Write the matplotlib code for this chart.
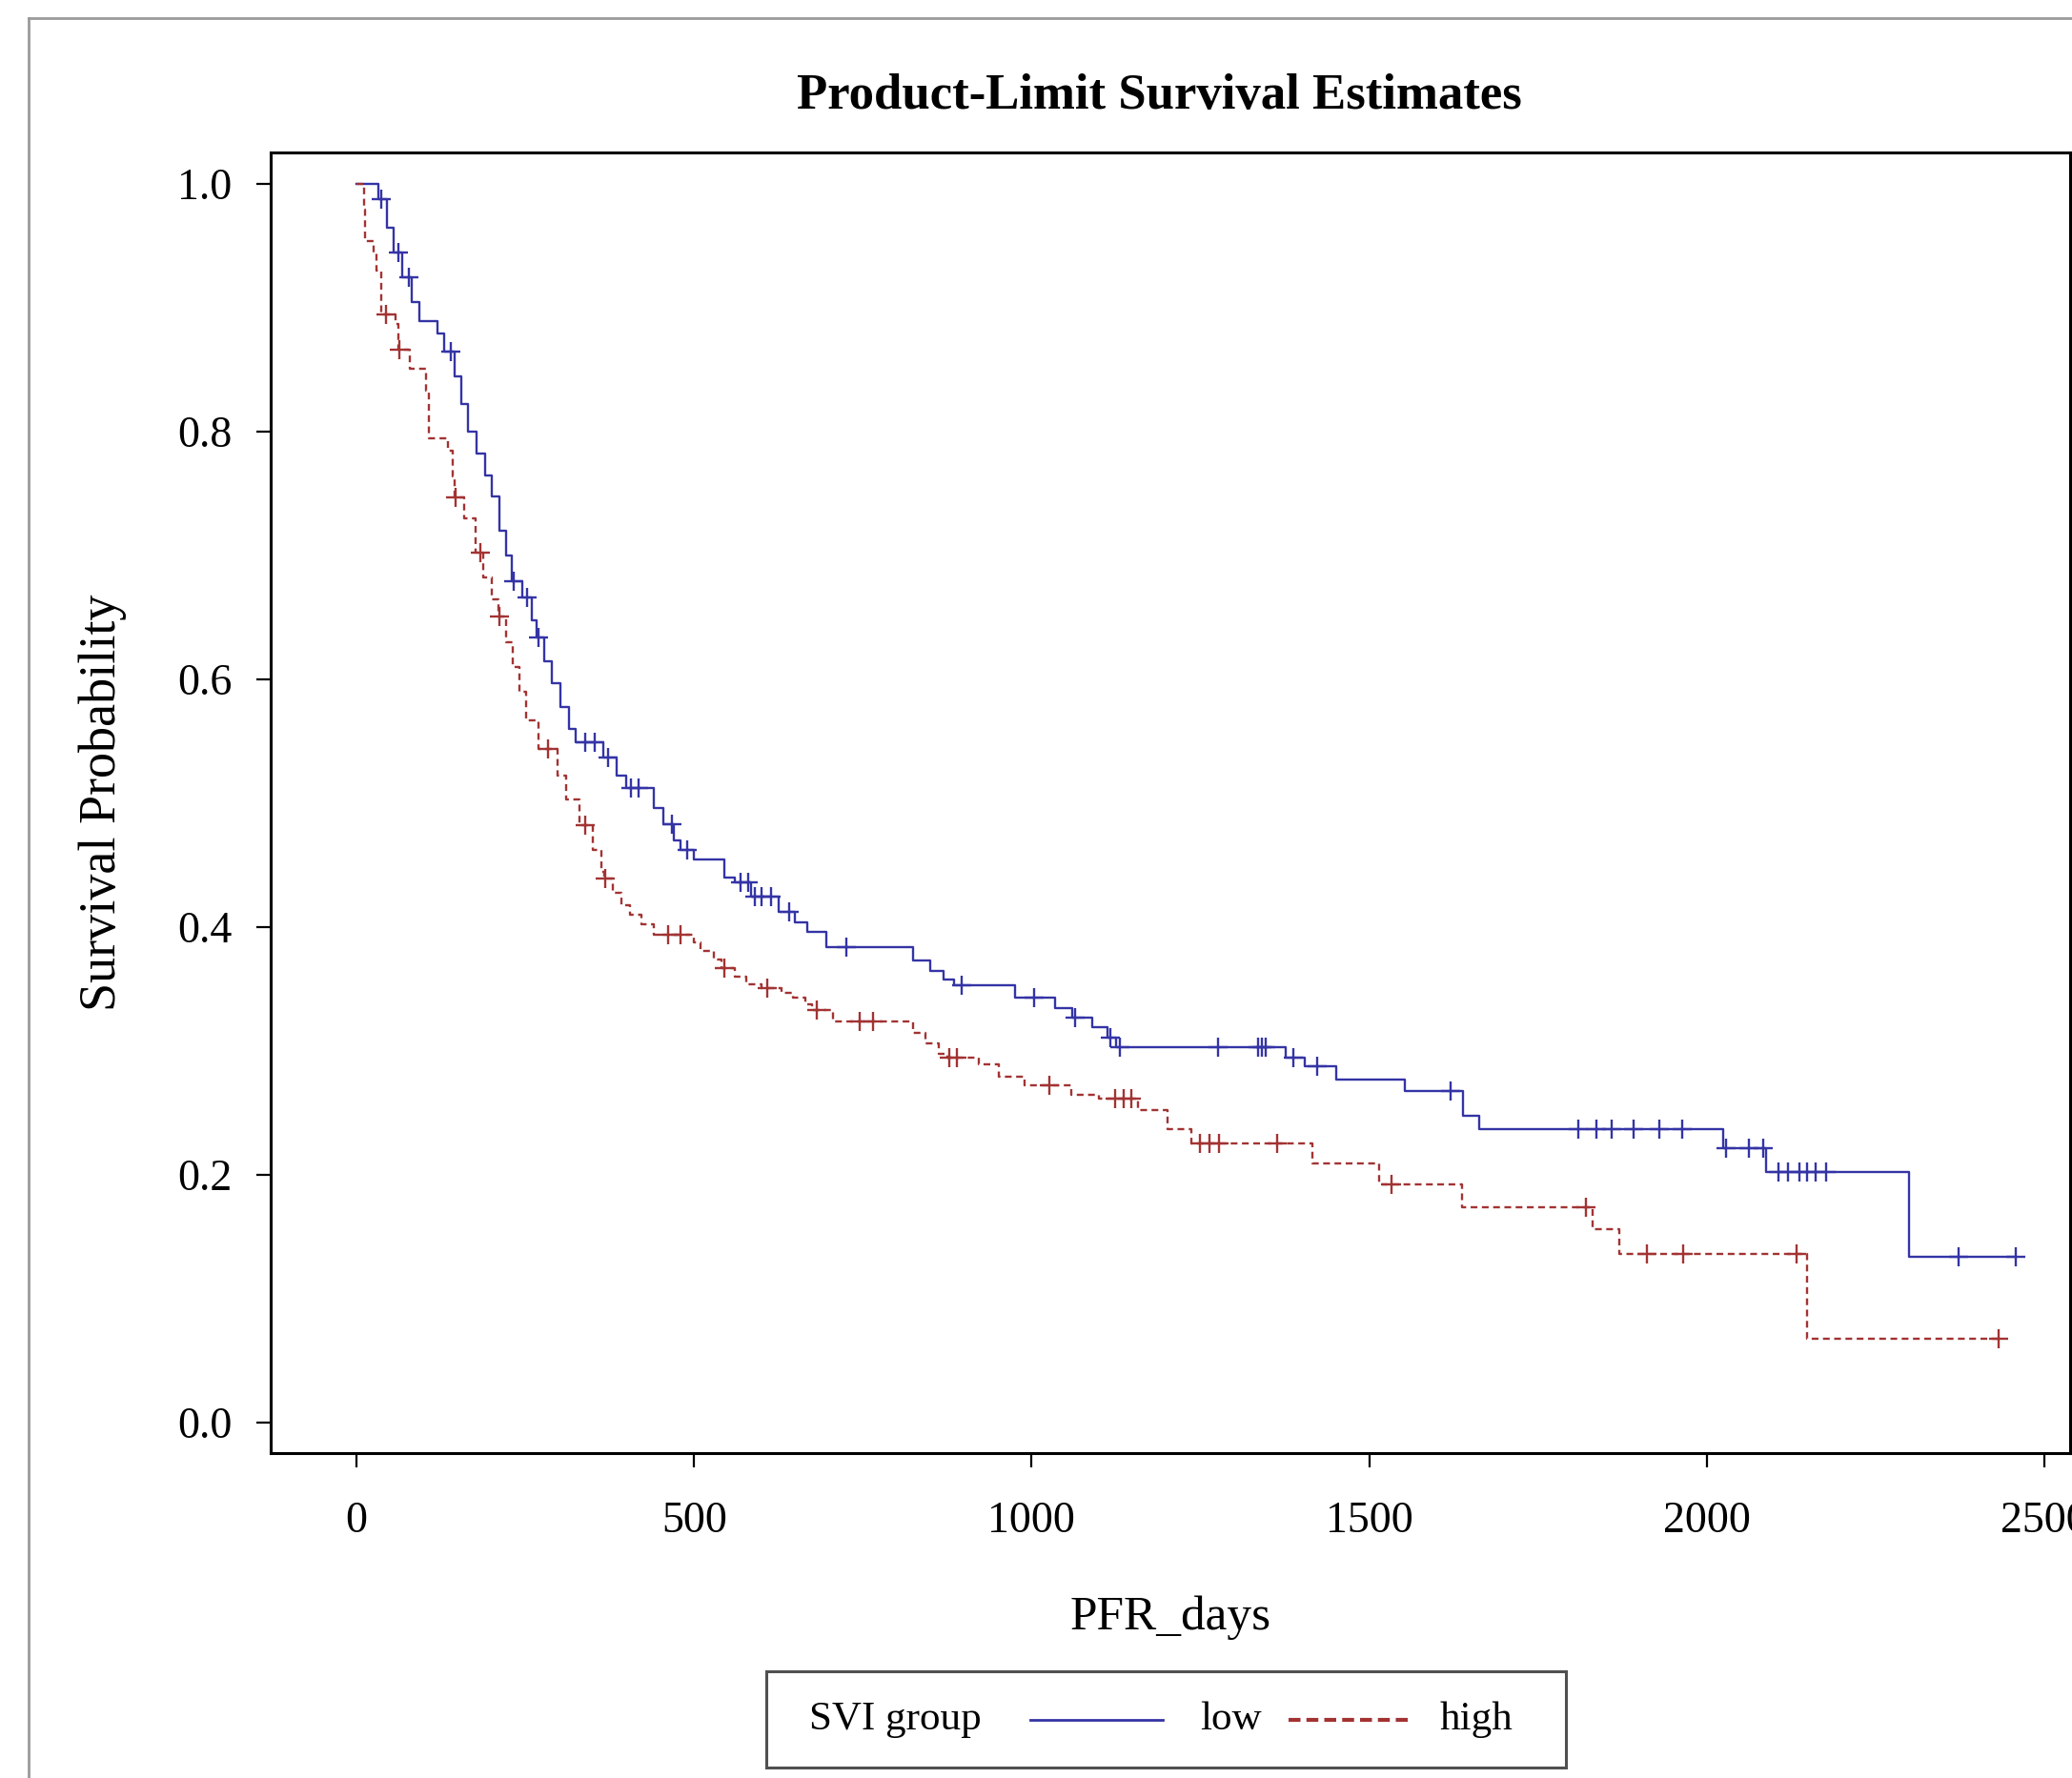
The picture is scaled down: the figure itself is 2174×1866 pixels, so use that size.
import numpy as np
import matplotlib
matplotlib.use("Agg")
import matplotlib.pyplot as plt
from matplotlib.lines import Line2D
from matplotlib.patches import Rectangle

plt.rcParams['font.family'] = ['Liberation Serif', 'DejaVu Serif']

# Product-limit (Kaplan-Meier) estimates
# low SVI group: event day -> survival after the event
low_days = [32, 45, 55, 68, 82, 93, 120, 130, 145, 155, 165, 178, 190, 200,
            212, 222, 230, 245, 260, 267, 278, 290, 302, 315, 325, 365, 385,
            400, 440, 455, 470, 480, 500, 545, 560, 585, 625, 650, 667, 696,
            824, 850, 870, 885, 975, 1035, 1060, 1090, 1112, 1125, 1376, 1404,
            1451, 1553, 1639, 1663, 2024, 2088, 2300]
low_surv = [0.988, 0.965, 0.945, 0.925, 0.905, 0.889, 0.879, 0.865, 0.845,
            0.822, 0.800, 0.782, 0.765, 0.748, 0.720, 0.700, 0.679, 0.666,
            0.648, 0.634, 0.615, 0.597, 0.578, 0.560, 0.549, 0.537, 0.522,
            0.512, 0.496, 0.483, 0.470, 0.462, 0.455, 0.440, 0.436, 0.425,
            0.412, 0.404, 0.396, 0.384, 0.373, 0.365, 0.358, 0.353, 0.343,
            0.335, 0.327, 0.319, 0.311, 0.303, 0.295, 0.288, 0.277, 0.268,
            0.248, 0.237, 0.2215, 0.202, 0.134]
low_censored = [37, 62, 77, 140, 233, 253, 269, 339, 353, 373, 406, 418, 467,
                490, 569, 580, 590, 600, 614, 641, 726, 896, 1004, 1065, 1116,
                1130, 1276, 1335, 1341, 1347, 1388, 1423, 1621, 1809, 1837,
                1859, 1891, 1929, 1963, 2028, 2062, 2083, 2106, 2120, 2137,
                2149, 2161, 2177, 2373, 2458]

# high SVI group
high_days = [11, 13, 25, 30, 37, 58, 62, 79, 103, 107, 136, 143, 146, 160,
             176, 188, 200, 210, 222, 231, 241, 251, 270, 298, 310, 330, 350,
             363, 367, 380, 392, 405, 422, 440, 500, 510, 530, 540, 560, 578,
             600, 630, 647, 665, 675, 706, 824, 843, 863, 875, 922, 951, 990,
             1059, 1100, 1157, 1201, 1236, 1416, 1515, 1638, 1831, 1871, 2149]
high_surv = [0.979, 0.954, 0.945, 0.930, 0.895, 0.887, 0.866, 0.851, 0.833,
             0.795, 0.785, 0.764, 0.747, 0.730, 0.702, 0.682, 0.665, 0.651,
             0.630, 0.610, 0.590, 0.567, 0.544, 0.522, 0.503, 0.482, 0.462,
             0.445, 0.439, 0.428, 0.418, 0.410, 0.402, 0.394, 0.388, 0.381,
             0.374, 0.367, 0.360, 0.354, 0.351, 0.347, 0.343, 0.338, 0.333,
             0.324, 0.315, 0.306, 0.298, 0.295, 0.289, 0.279, 0.272, 0.265,
             0.2615, 0.252, 0.237, 0.2254, 0.209, 0.192, 0.174, 0.156, 0.136,
             0.0677]
high_censored = [44, 63, 147, 183, 212, 284, 339, 369, 461, 480, 545, 608,
                 682, 745, 765, 878, 890, 1026, 1124, 1137, 1147, 1249, 1263,
                 1277, 1364, 1533, 1821, 1911, 1965, 2133, 2432]

groups = ['low', 'high']
x_ticks = [0, 500, 1000, 1500, 2000, 2500]
y_ticks = [0.0, 0.2, 0.4, 0.6, 0.8, 1.0]

low_color = '#3434a6'
high_color = '#a33333'
high_dash = (0, (3, 2))

W, H = 2174, 1866
fig = plt.figure(figsize=(W / 100, H / 100), dpi=100)
ax = fig.add_axes([284 / W, 1 - 1525 / H, (2172 - 284) / W, (1525 - 160) / H])


def km_curve(days, surv, censored):
    t = np.concatenate([[0.0], days])
    s = np.concatenate([[1.0], surv])
    end = max(max(days), max(censored))
    t = np.append(t, end)
    s = np.append(s, s[-1])
    return t, s


def surv_at(times, days, surv):
    t = np.concatenate([[0.0], days])
    s = np.concatenate([[1.0], surv])
    idx = np.searchsorted(t, times, side='right') - 1
    return s[idx]


for days, surv, cens, color, ls in [
        (low_days, low_surv, low_censored, low_color, '-'),
        (high_days, high_surv, high_censored, high_color, high_dash)]:
    t, s = km_curve(days, surv, cens)
    ax.step(t, s, where='post', color=color, lw=1.7, ls=ls)
    ax.plot(cens, surv_at(cens, days, surv), ls='none', marker='+',
            ms=15, mew=1.7, color=color)

ax.set_xlim(-127, 2538)
ax.set_ylim(-0.0246, 1.0254)
ax.set_xticks(x_ticks)
ax.set_yticks(y_ticks)
ax.set_yticklabels([f'{v:.1f}' for v in y_ticks])
ax.tick_params(axis='both', direction='out', length=11, width=1.6,
               labelsize=33, colors='black')
ax.tick_params(axis='x', pad=25)
ax.tick_params(axis='y', pad=18)
for sp in ax.spines.values():
    sp.set_linewidth(2.2)

ax.set_xlabel('PFR_days', fontsize=37, labelpad=0)
ax.xaxis.set_label_coords(0.5, 1 - (1698 - 160) / (1525 - 160),
                          transform=ax.transAxes)
ax.xaxis.label.set_va('center')
ax.set_ylabel('Survival Probability', fontsize=39)
ax.yaxis.set_label_coords((108 - 284) / (2172 - 284), 0.5,
                          transform=ax.transAxes)
ax.yaxis.label.set_va('center')

fig.text(1216 / W, 1 - 101 / H, 'Product-Limit Survival Estimates',
         ha='center', va='center', fontsize=38, fontweight='bold')

# outer screenshot frame
frame = '#9a9a9a'
fig.add_artist(Line2D([30 / W, 1], [1 - 19 / H, 1 - 19 / H],
                      transform=fig.transFigure, color=frame, lw=2))
fig.add_artist(Line2D([30 / W, 30 / W], [0, 1 - 19 / H],
                      transform=fig.transFigure, color=frame, lw=2))

# legend box below the axis
fig.add_artist(Rectangle((804 / W, 1 - 1855 / H), (1643 - 804) / W,
                         (1855 - 1754) / H, transform=fig.transFigure,
                         fill=False, ec='#505050', lw=2.2))
ly = 1 - 1805 / H
fig.text(849 / W, ly, 'SVI group', ha='left', va='center', fontsize=31)
fig.add_artist(Line2D([1081 / W, 1220 / W], [ly, ly], transform=fig.transFigure,
                      color=low_color, lw=2))
fig.text(1259 / W, ly, groups[0], ha='left', va='center', fontsize=31)
fig.add_artist(Line2D([1352 / W, 1481 / W], [ly, ly], transform=fig.transFigure,
                      color=high_color, lw=3, ls=(0, (3, 1.5))))
fig.text(1511 / W, ly, groups[1], ha='left', va='center', fontsize=31)

fig.savefig('out.png', dpi=100)
